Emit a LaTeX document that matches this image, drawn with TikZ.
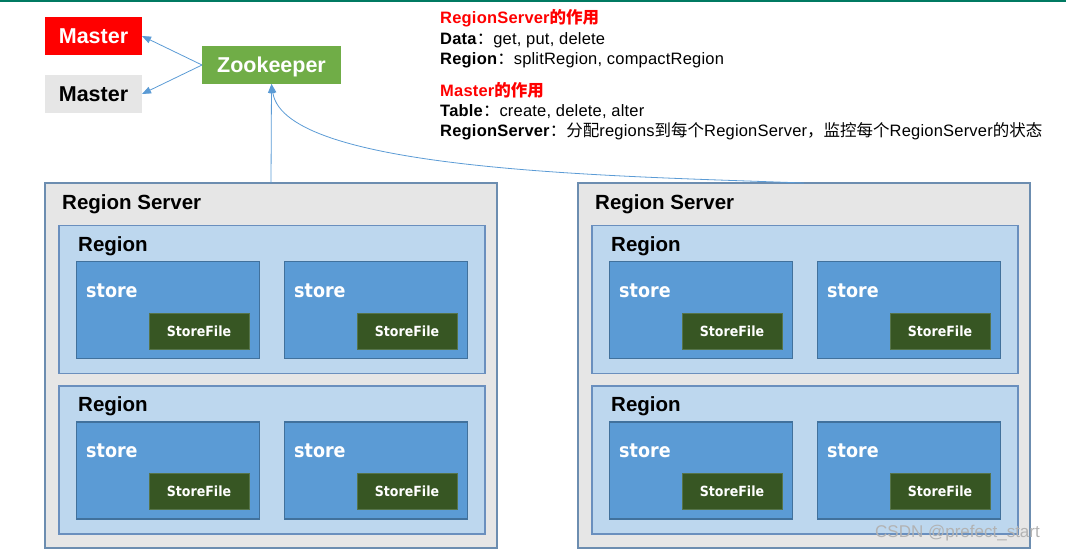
\documentclass[tikz,border=0pt]{standalone}
\usepackage{fontspec}
\setmainfont{Liberation Sans}
\newfontfamily\cjk{Noto Sans CJK SC}
\newfontfamily\infofont{Liberation Sans}[LetterSpace=1.2]
\newfontfamily\dvc{DejaVu Sans Condensed}
\usetikzlibrary{arrows.meta}
\definecolor{topteal}{HTML}{007A62}
\definecolor{mred}{HTML}{FF0000}
\definecolor{mgray}{HTML}{E6E6E6}
\definecolor{zkgreen}{HTML}{70AD47}
\definecolor{rsfill}{HTML}{E6E6E6}
\definecolor{rsline}{HTML}{6C8DB0}
\definecolor{rgfill}{HTML}{BDD7EE}
\definecolor{rgline}{HTML}{6A8FBE}
\definecolor{stfill}{HTML}{5B9BD5}
\definecolor{stline}{HTML}{41719C}
\definecolor{sffill}{HTML}{375623}
\definecolor{sfline}{HTML}{56744A}
\definecolor{arrowblue}{HTML}{5B9BD5}
\begin{document}
\begin{tikzpicture}[x=1pt,y=-1pt,
  box/.style={rectangle,inner sep=0pt,outer sep=0pt,anchor=north west},
  topbox/.style={box,minimum width=97pt,minimum height=38pt,
    font=\fontsize{21.5}{21.5}\selectfont\bfseries,text height=15pt,text depth=0pt},
  masterred/.style={topbox,fill=mred,text=white},
  mastergray/.style={topbox,fill=mgray,text=black},
  zkbox/.style={topbox,fill=zkgreen,text=white,minimum width=139pt},
  rsbox/.style={box,fill=rsfill,draw=rsline,line width=1.4pt,minimum width=452pt,minimum height=365pt},
  rgbox/.style={box,fill=rgfill,draw=rgline,line width=1.4pt,minimum width=426pt,minimum height=148pt},
  stbox/.style={box,fill=stfill,draw=stline,line width=1.4pt,minimum width=183pt,minimum height=97pt},
  sfbox/.style={box,fill=sffill,draw=sfline,line width=0.6pt,minimum width=100pt,minimum height=36pt,
    text=white,font=\dvc\fontsize{14}{14}\selectfont\bfseries,text height=10pt,text depth=0pt},
  rslbl/.style={anchor=base west,inner sep=0pt,font=\fontsize{20.5}{20.5}\selectfont\bfseries},
  stlbl/.style={anchor=base west,inner sep=0pt,text=white,font=\dvc\fontsize{19.5}{19.5}\selectfont\bfseries},
  info/.style={anchor=base west,inner sep=0pt,font=\infofont\fontsize{16.5}{16.5}\selectfont},
  infohead/.style={info,text=mred,font=\infofont\fontsize{16.5}{16.5}\selectfont\bfseries},
  conn/.style={draw=arrowblue,line width=0.8pt,-{Triangle[length=9pt,width=7pt]},fill=none}
]
\useasboundingbox (0,0) rectangle (1066,550);
\fill[topteal] (0,0) rectangle (1066,2);

% top nodes
\node[masterred] (m1) at (45,17) {Master};
\node[mastergray] (m2) at (45,75) {Master};
\node[zkbox] (zk) at (202,46) {Zookeeper};

% info text
\node[infohead] (h1) at (440,23.5) {RegionServer{\cjk 的作用}};
\node[info] (l1) at (440,44.3) {\textbf{Data}{\cjk ：}get, put, delete};
\node[info] (l2) at (440,64.3) {\textbf{Region}{\cjk ：}splitRegion, compactRegion};
\node[infohead] (h2) at (440,96.3) {Master{\cjk 的作用}};
\node[info] (l3) at (440,116.3) {\textbf{Table}{\cjk ：}create, delete, alter};
\node[info] (l4) at (440,136.3) {\textbf{RegionServer}{\cjk ：分配}regions{\cjk 到每个}RegionServer{\cjk ，监控每个}RegionServer{\cjk 的状态}};

% region servers
\foreach \i/\dx in {1/0,2/533}{
  \node[rsbox] (rs\i) at (45+\dx,183) {};
  \node[rslbl] (rs\i t) at (62+\dx,209) {Region Server};
  \foreach \j/\dy in {1/0,2/160.5}{
    \node[rgbox] (rg\i\j) at (59+\dx,225.5+\dy) {};
    \node[rslbl] (rg\i\j t) at (78+\dx,251+\dy) {Region};
    \foreach \k/\ex in {1/0,2/208}{
      \node[stbox] (st\i\j\k) at (76.5+\dx+\ex,261.5+\dy) {};
      \node[stlbl] (st\i\j\k t) at (86+\dx+\ex,297+\dy) {store};
      \node[sfbox] (sf\i\j\k) at (149+\dx+\ex,313+\dy) {StoreFile};
    }
  }
}

% connectors
\draw[conn] (zk.west) -- (m1.east);
\draw[conn] (zk.west) -- (m2.east);
\draw[conn] (rs1.north) -- (zk.south);
\draw[conn] (rs2.north) .. controls (620,176) and (285,172) .. (zk.south);

% watermark
\node[anchor=base west,inner sep=0pt,text=gray!60,font=\fontsize{17}{17}\selectfont] (wm) at (875,537) {CSDN @prefect\_start};
\end{tikzpicture}
\end{document}
